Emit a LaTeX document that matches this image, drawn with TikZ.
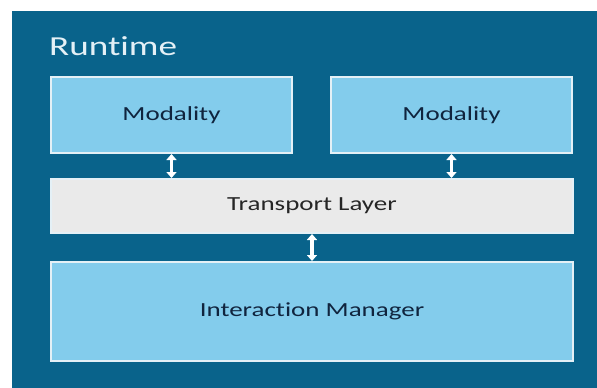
\documentclass[tikz,border=0pt]{standalone}
\usepackage{fontspec}
\setmainfont{Carlito}[FakeStretch=1.35, Ligatures=NoCommon]
\usepackage{tikz}
\usetikzlibrary{arrows.meta,positioning}
\usepackage{xcolor}
\definecolor{runbg}{RGB}{9,99,139}
\definecolor{modblue}{RGB}{131,204,236}
\definecolor{laygrey}{RGB}{234,234,234}
\definecolor{edgewhite}{RGB}{228,240,246}
\definecolor{navytext}{RGB}{16,36,62}

\begin{document}
\begin{tikzpicture}[
  x=1pt, y=-1pt,
  block/.style={rectangle, draw=edgewhite, line width=2pt, fill=modblue,
                minimum width=241pt, minimum height=76pt, inner sep=0pt,
                align=center, font=\fontsize{20}{24}\selectfont, text=navytext},
  layer/.style={block, fill=laygrey, minimum width=522pt, minimum height=54pt,
                text=black!85},
  arrow/.style={{Triangle[length=6pt,width=10pt]}-{Triangle[length=6pt,width=10pt]},
                line width=3.5pt, white},
  label/.style={font=\fontsize{27.5}{32}\selectfont, text=edgewhite, inner sep=0pt},
  node distance=24pt
]
\useasboundingbox (0,0) rectangle (597,388);
\fill[runbg] (12,11) rectangle (597,388);

\node[label, anchor=base west] (title) at (49,55) {Runtime};

\node[block, anchor=north west] (modL) at (50,76) {Modality};
\node[block, right=37pt of modL] (modR) {Modality};
\node[layer, below=24pt of modL.south west, anchor=north west] (trans) {Transport Layer};
\node[layer, below=27pt of trans, fill=modblue, text=navytext, minimum height=99pt] (im) {Interaction Manager};

\draw[arrow] (modL.south) -- (modL.south |- trans.north);
\draw[arrow] (modR.south) -- (modR.south |- trans.north);
\draw[arrow] (trans) -- (im);

\end{tikzpicture}
\end{document}
